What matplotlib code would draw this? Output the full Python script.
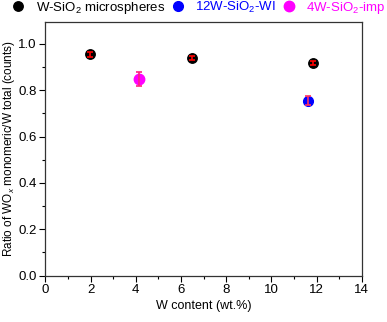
import matplotlib
matplotlib.use("Agg")
import matplotlib.pyplot as plt
from matplotlib.ticker import MultipleLocator

plt.rcParams['font.family'] = ['Liberation Sans', 'DejaVu Sans']
plt.rcParams['mathtext.fontset'] = 'custom'
plt.rcParams['mathtext.rm'] = 'Liberation Sans'
plt.rcParams['mathtext.it'] = 'Liberation Sans:italic'

# Data
micro_x = [1.98, 6.49, 11.86]
micro_y = [0.955, 0.938, 0.917]
micro_err = [0.010, 0.008, 0.008]

wi_x = [11.61]
wi_y = [0.755]
wi_err = [0.02]

imp_x = [4.13]
imp_y = [0.849]
imp_err = [0.03]

fig = plt.figure(figsize=(3.87, 3.22), dpi=100)
ax = fig.add_axes([0.117, 0.144, 0.818, 0.788])

h1, = ax.plot(micro_x, micro_y, 'o', color='black', ms=6.8, zorder=2, label='W-SiO$_2$ microspheres')
ax.errorbar(micro_x, micro_y, yerr=micro_err, fmt='none', ecolor='red', elinewidth=1.2, capsize=2.5, capthick=1.2, zorder=3)

h2, = ax.plot(wi_x, wi_y, 'o', color='blue', ms=7, zorder=2, label='12W-SiO$_2$-WI')
ax.errorbar(wi_x, wi_y, yerr=wi_err, fmt='none', ecolor='#ff3060', elinewidth=1.2, capsize=2.5, capthick=1.2, zorder=3)

h3, = ax.plot(imp_x, imp_y, 'o', color='magenta', ms=7.5, zorder=2, label='4W-SiO$_2$-imp')
ax.errorbar(imp_x, imp_y, yerr=imp_err, fmt='none', ecolor='#ff2080', elinewidth=1.2, capsize=2.5, capthick=1.2, zorder=3)

ax.set_xlim(0, 14)
ax.set_ylim(0, 1.095)
ax.xaxis.set_minor_locator(MultipleLocator(1))
ax.yaxis.set_minor_locator(MultipleLocator(0.1))
ax.set_xticks([0, 2, 4, 6, 8, 10, 12, 14])
ax.set_yticks([0.0, 0.2, 0.4, 0.6, 0.8, 1.0])
ax.set_yticklabels(['0.0', '0.2', '0.4', '0.6', '0.8', '1.0'])
ax.tick_params(which='major', direction='out', length=4, width=0.8, labelsize=9.5, pad=2)
ax.tick_params(which='minor', direction='out', length=2, width=0.8)
for s in ax.spines.values():
    s.set_linewidth(0.9)
    s.set_color('#333333')

ax.set_xlabel('W content (wt.%)', fontsize=9, labelpad=3)
ax.set_ylabel('Ratio of WO$_x$ monomeric/W total (counts)', fontsize=8.5, labelpad=1)

leg = fig.legend(handles=[h1, h2, h3], loc='center', bbox_to_anchor=(0.515, 1 - 8 / 322), ncol=3,
                 frameon=False, fontsize=9.5, handlelength=0.8, handletextpad=0.9, columnspacing=0.6,
                 labelcolor='markerfacecolor', borderaxespad=0, borderpad=0)

fig.savefig('out.png', dpi=100)
